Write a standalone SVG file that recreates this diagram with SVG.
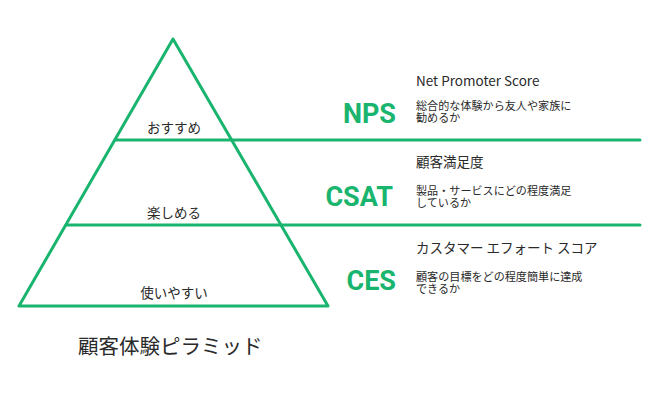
<svg xmlns="http://www.w3.org/2000/svg" width="658" height="400" viewBox="0 0 658 400">
<style>
.g{stroke:#19b46e;stroke-width:3;fill:none;stroke-linecap:round;stroke-linejoin:round}
.t{font-family:"Noto Sans CJK JP","Noto Sans",sans-serif;fill:#2a2a2a}
.lv{font-size:13.5px;text-anchor:middle}
.k{font-family:"Roboto","Noto Sans",sans-serif;font-weight:bold;fill:#19b46e;font-size:27px;text-anchor:end}
.h{font-size:13.5px}
.d{font-size:11.1px}
</style>
<rect width="658" height="400" fill="#ffffff"/>
<g id="pyramid">
<polygon points="173,39 19,306 328,306" fill="#f5f5f5" class="g"/>
</g>
<g id="connectors">
<line class="g" x1="115" y1="140" x2="640" y2="140"/>
<line class="g" x1="66" y1="225" x2="640" y2="225"/>
</g>
<g id="nps">
<text class="t lv" x="174" y="133">おすすめ</text>
<text class="k" x="396" y="123">NPS</text>
<text class="t h" x="416" y="86">Net Promoter Score</text>
<text class="t d" x="416" y="110">総合的な体験から友人や家族に<tspan x="416" dy="12">勧めるか</tspan></text>
</g>
<g id="csat">
<text class="t lv" x="174" y="218">楽しめる</text>
<text class="k" x="393" y="206">CSAT</text>
<text class="t h" x="416" y="167">顧客満足度</text>
<text class="t d" x="416" y="195">製品・サービスにどの程度満足<tspan x="416" dy="12">しているか</tspan></text>
</g>
<g id="ces">
<text class="t lv" x="174" y="298">使いやすい</text>
<text class="k" x="396" y="290">CES</text>
<text class="t h" x="416" y="253">カスタマー エフォート スコア</text>
<text class="t d" x="416" y="281">顧客の目標をどの程度簡単に達成<tspan x="416" dy="12">できるか</tspan></text>
</g>
<g id="title">
<text class="t" x="78" y="354" font-size="20.5">顧客体験ピラミッド</text>
</g>
</svg>
